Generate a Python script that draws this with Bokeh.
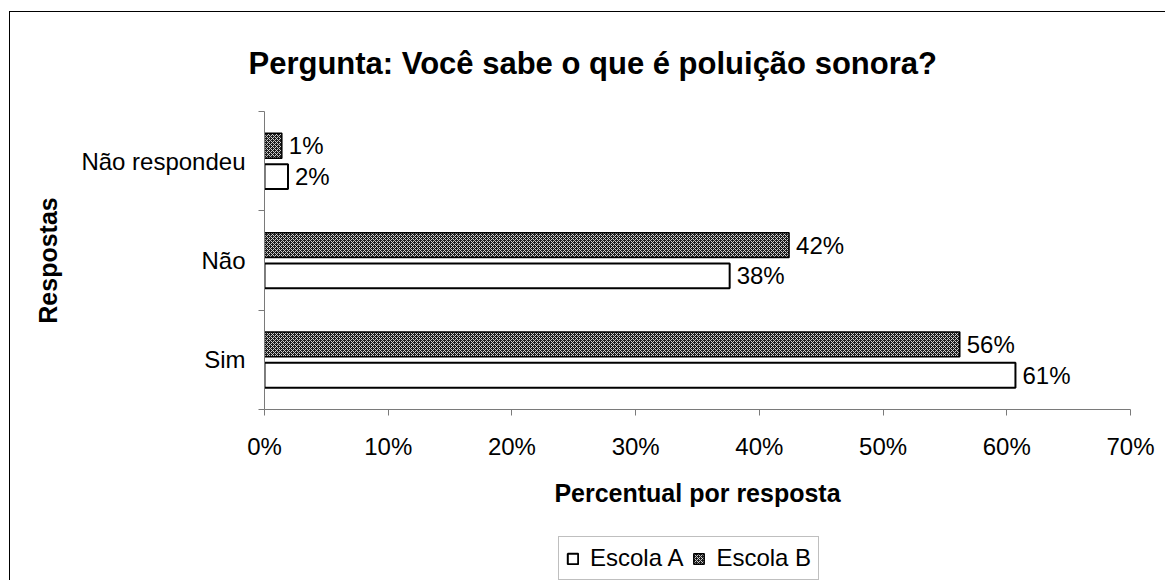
from bokeh.plotting import figure
from bokeh.layouts import column
from bokeh.models import (Range1d, FixedTicker, PrintfTickFormatter,
                          Legend, LegendItem, ColumnDataSource)
from bokeh.core.properties import value
from bokeh.embed import file_html
from bokeh.resources import INLINE

# ---- data ----
title_text = "Pergunta: Você sabe o que é poluição sonora?"
categories = ["Sim", "Não", "Não respondeu"]
series_names = ["Escola A", "Escola B"]
escola_a = [60.7, 37.6, 1.9]
escola_b = [56.2, 42.4, 1.4]
x_ticks = [0, 10, 20, 30, 40, 50, 60, 70]
x_label = "Percentual por resposta"
y_label = "Respostas"

FONT = "Liberation Sans"
AXIS_GREY = "#7a7a7a"
STYLE_A = dict(fill_color="white", line_color="black", line_width=2)
STYLE_B = dict(fill_color="#1c1c1c", hatch_pattern="diagonal_cross",
               hatch_color="#d0d0d0", hatch_scale=4, hatch_weight=1,
               line_color="black", line_width=1.5)

centers = [i + 0.5 for i in range(len(categories))]
boundaries = list(range(len(categories) + 1))
OFF = 0.155

src_a = ColumnDataSource(dict(
    y=[c - OFF for c in centers], x=escola_a,
    label=[f"{round(v)}%" for v in escola_a]))
src_b = ColumnDataSource(dict(
    y=[c + OFF for c in centers], x=escola_b,
    label=[f"{round(v)}%" for v in escola_b]))

p = figure(frame_width=866, frame_height=298,
           min_border_left=254, min_border_right=35,
           min_border_top=98, min_border_bottom=115,
           x_range=Range1d(x_ticks[0], x_ticks[-1]),
           y_range=Range1d(boundaries[0], boundaries[-1]),
           output_backend="svg", toolbar_location=None, tools="",
           background_fill_color="white", border_fill_color="white")
p.xgrid.visible = False
p.ygrid.visible = False
p.outline_line_color = None

# title
p.title.text = title_text
p.title.align = "left"
p.title.offset = -16
p.title.standoff = 62
p.title.text_font = FONT
p.title.text_font_style = "bold"
p.title.text_font_size = "31px"
p.title.text_color = "black"

p.hbar(y="y", left=0, right="x", height=0.25, source=src_b, **STYLE_B)
p.hbar(y="y", left=0, right="x", height=0.25, source=src_a, **STYLE_A)

for src in (src_a, src_b):
    p.text(x="x", y="y", text="label", source=src, x_offset=7,
           text_align="left", text_baseline="middle",
           text_font=value(FONT), text_font_size="24px", text_color="black")

# x axis
xa = p.xaxis[0]
xa.ticker = FixedTicker(ticks=x_ticks)
xa.formatter = PrintfTickFormatter(format="%d%%")
xa.axis_line_color = AXIS_GREY
xa.major_tick_line_color = AXIS_GREY
xa.major_tick_out = 6
xa.major_tick_in = 0
xa.minor_tick_line_color = None
xa.major_label_text_font = FONT
xa.major_label_text_font_size = "24px"
xa.major_label_text_color = "black"
xa.major_label_standoff = 17
xa.axis_label = x_label
xa.axis_label_text_font = FONT
xa.axis_label_text_font_style = "bold"
xa.axis_label_text_font_size = "25px"
xa.axis_label_text_color = "black"
xa.axis_label_standoff = 16

# y axis
ya = p.yaxis[0]
ya.ticker = FixedTicker(ticks=centers, minor_ticks=boundaries)
ya.major_label_overrides = {c: cat for c, cat in zip(centers, categories)}
ya.axis_line_color = AXIS_GREY
ya.major_tick_line_color = None
ya.major_tick_out = 0
ya.major_tick_in = 0
ya.minor_tick_line_color = AXIS_GREY
ya.minor_tick_out = 6
ya.minor_tick_in = 0
ya.major_label_text_font = FONT
ya.major_label_text_font_size = "24px"
ya.major_label_text_color = "black"
ya.major_label_standoff = 13
ya.axis_label = y_label
ya.axis_label_text_font = FONT
ya.axis_label_text_font_style = "bold"
ya.axis_label_text_font_size = "25px"
ya.axis_label_text_color = "black"
ya.axis_label_standoff = 16

# legend strip (own small canvas below the chart)
lf = figure(width=1155, height=57, min_border=0, title=None,
            x_range=Range1d(0, 1), y_range=Range1d(0, 1),
            x_axis_location=None, y_axis_location=None,
            output_backend="svg", toolbar_location=None, tools="",
            background_fill_color="white", border_fill_color="white")
lf.xgrid.visible = False
lf.ygrid.visible = False
lf.outline_line_color = None
la = lf.hbar(y="y", left=0, right="x", height=0.25, source=src_a,
             visible=False, **STYLE_A)
lb = lf.hbar(y="y", left=0, right="x", height=0.25, source=src_b,
             visible=False, **STYLE_B)

legend = Legend(items=[LegendItem(label=series_names[0], renderers=[la]),
                       LegendItem(label=series_names[1], renderers=[lb])],
                orientation="horizontal", location=(294, 1),
                border_line_color="#808080", border_line_width=1.5,
                padding=7, spacing=9, glyph_width=13, glyph_height=13,
                label_standoff=11, label_text_font=FONT,
                label_text_font_size="24px", label_text_color="black",
                inactive_fill_alpha=0,
                margin=0, background_fill_alpha=1)
lf.add_layout(legend, "center")

layout = column(p, lf, spacing=0,
                styles={"border-left": "1px solid black",
                        "border-top": "1px solid black",
                        "margin-left": "9px", "margin-top": "11px"})

open("out.html", "w").write(file_html(layout, INLINE))
